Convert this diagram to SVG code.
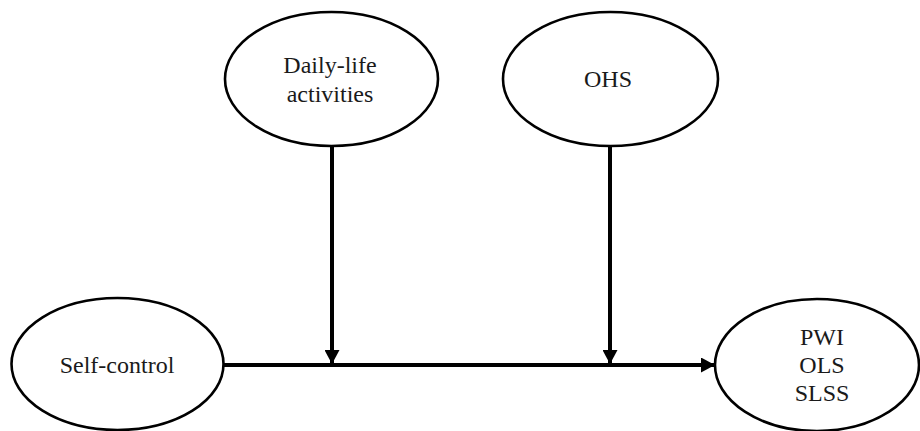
<svg xmlns="http://www.w3.org/2000/svg" width="920" height="431" viewBox="0 0 920 431">
<style>
.node ellipse{fill:#fff;stroke:#000;stroke-width:2.6}
.node text{font-family:"Liberation Serif","Times New Roman",serif;font-size:24px;fill:#1a1a1a;text-anchor:middle}
.conn line{stroke:#000;stroke-width:4}
</style>
<defs>
<marker id="ah" viewBox="0 0 14 15" refX="14" refY="7.5" markerWidth="14" markerHeight="15" markerUnits="userSpaceOnUse" orient="auto">
<path d="M0,0 L14,7.5 L0,15 Z" fill="#000"/>
</marker>
</defs>
<rect width="920" height="431" fill="#fff"/>
<g class="conn">
<line x1="223" y1="365" x2="715" y2="365" marker-end="url(#ah)"/>
<line x1="332" y1="146" x2="332" y2="364" marker-end="url(#ah)"/>
<line x1="610" y1="146" x2="610" y2="364" marker-end="url(#ah)"/>
</g>
<g id="daily" class="node">
<ellipse cx="331.5" cy="79" rx="106.5" ry="67"/>
<text x="330" y="73">Daily-life</text>
<text x="330" y="102">activities</text>
</g>
<g id="ohs" class="node">
<ellipse cx="610.5" cy="79" rx="107.5" ry="67"/>
<text x="608" y="87">OHS</text>
</g>
<g id="selfcontrol" class="node">
<ellipse cx="117.5" cy="364" rx="106" ry="66"/>
<text x="117" y="373">Self-control</text>
</g>
<g id="outcome" class="node">
<ellipse cx="817" cy="365" rx="102" ry="66"/>
<text x="822" y="345">PWI</text>
<text x="822" y="373">OLS</text>
<text x="822" y="401">SLSS</text>
</g>
</svg>
